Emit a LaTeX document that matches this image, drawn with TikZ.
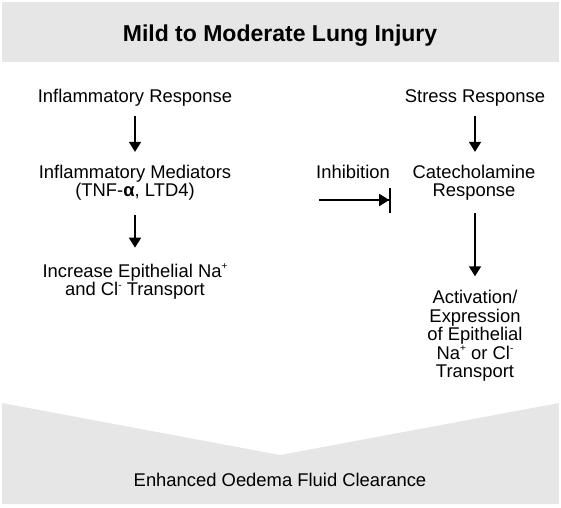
\documentclass[tikz,border=0pt]{standalone}
\usepackage{fontspec}
\setmainfont{Liberation Sans}
\usetikzlibrary{arrows.meta}
\definecolor{bandgray}{RGB}{230,230,230}
\newcommand{\supx}[1]{\raisebox{0.75ex}{\fontsize{10}{10}\selectfont #1}}
\tikzset{
  txt/.style={align=center, anchor=base, inner sep=0pt, font=\fontsize{18.4}{18.6}\selectfont},
  arr/.style={line width=1.8pt, -{Triangle[length=10pt,width=12pt]}},
}

\begin{document}
\begin{tikzpicture}[x=1pt, y=-1pt]
\useasboundingbox (0,0) rectangle (561,507);
\fill [bandgray] (2,2) rectangle (559,62);
\fill [bandgray] (2,403) -- (280,455) -- (559,403) -- (559,504) -- (2,504) -- cycle;
\node [txt, font=\bfseries\fontsize{23}{24}\selectfont] (injury) at (280,41) {Mild to Moderate Lung Injury};
% left column
\node [txt] (inflresp) at (135,102.5) {Inflammatory Response};
\node [txt] (mediators) at (135,196.6) {Inflammatory Mediators\\(TNF-\textbf{α}, LTD4)};
\node [txt] (increase) at (135,295.7) {Increase Epithelial Na\supx{+}\\and Cl\supx{-} Transport};
% right column
\node [txt] (stress) at (475,102.5) {Stress Response};
\node [txt] (catechol) at (474,196.6) {Catecholamine\\Response};
\node [txt] (activation) at (475,377.8) {Activation/\\Expression\\of Epithelial\\Na\supx{+} or Cl\supx{-}\\Transport};
\node [txt] (inhibition) at (353,178) {Inhibition};
\node [txt] (clearance) at (280,486.7) {Enhanced Oedema Fluid Clearance};
\draw [arr, shorten <=9.6pt, shorten >=12.6pt] (inflresp.south) -- (mediators.north);
\draw [arr, shorten <=14.5pt, shorten >=15.9pt] (mediators.south) -- (increase.north);
\draw [arr, shorten <=9.6pt, shorten >=12.6pt] (stress.south) -- (stress.south |- catechol.north);
\draw [arr, shorten <=12.5pt, shorten >=13.6pt] (stress.south |- catechol.south) -- (activation.north);
\coordinate (inhstart) at (319,200);
\coordinate (inhend) at (391,200);
\draw [line width=1.8pt, -{Triangle[length=10pt,width=12pt,sep=0pt]Bar[width=25pt]}] (inhstart) -- (inhend);
\end{tikzpicture}
\end{document}
